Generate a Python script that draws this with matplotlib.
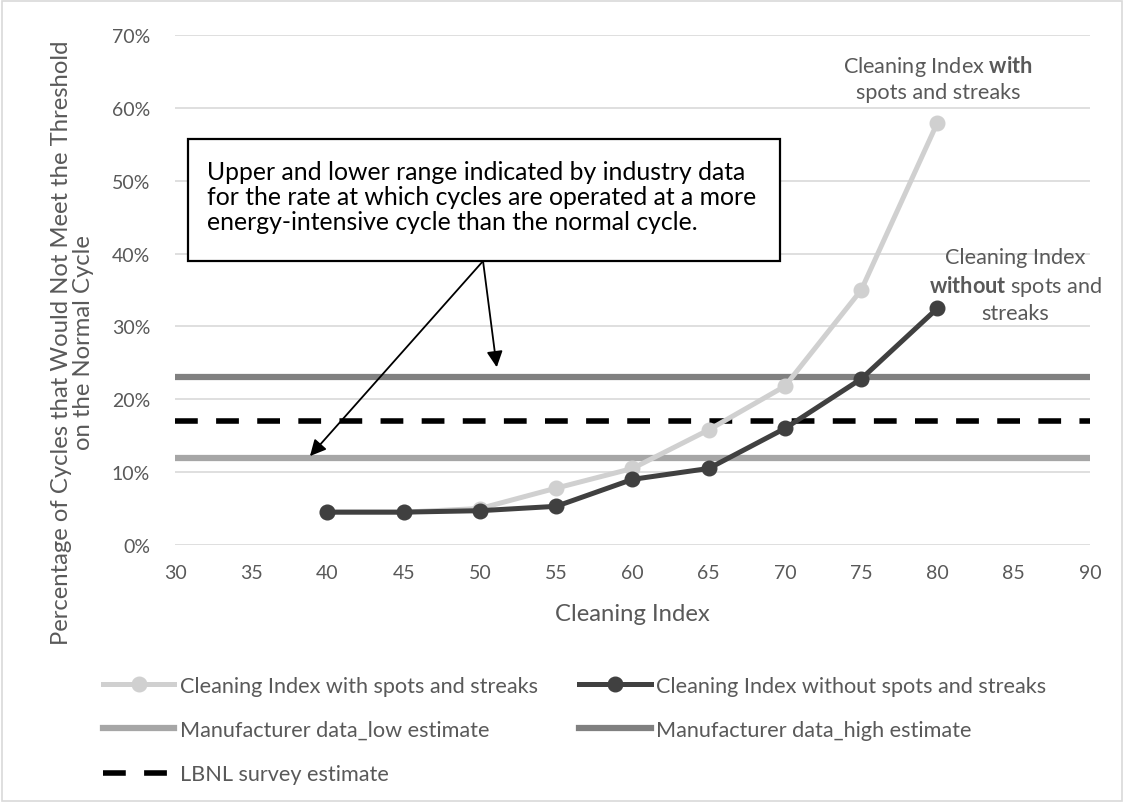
import matplotlib
matplotlib.use('Agg')
import matplotlib.pyplot as plt
from matplotlib.patches import Rectangle
from matplotlib.ticker import FuncFormatter

plt.rcParams['font.family'] = ['Lato', 'DejaVu Sans']
plt.rcParams['mathtext.fontset'] = 'custom'
plt.rcParams['mathtext.bf'] = 'Lato:bold'
plt.rcParams['mathtext.rm'] = 'Lato'

# data
ci = [40, 45, 50, 55, 60, 65, 70, 75, 80]
with_spots = [4.5, 4.5, 5.0, 7.8, 10.5, 15.8, 21.8, 35.0, 58.0]
without_spots = [4.5, 4.5, 4.7, 5.3, 9.0, 10.5, 16.0, 22.8, 32.5]
low_est = 12.0
high_est = 23.0
lbnl_est = 17.0
x_ticks = list(range(30, 91, 5))
y_ticks = list(range(0, 71, 10))

fig = plt.figure(figsize=(11.24, 8.04), dpi=100)
ax = fig.add_axes([0.1557, 0.321, 0.814, 0.634])

# outer chart border
fig.patches.append(Rectangle((0.002, 0.002), 0.996, 0.996, transform=fig.transFigure,
                             fill=False, edgecolor='#d9d9d9', lw=1.2))

l1, = ax.plot(ci, with_spots, color='#d0d0d0', lw=3.6, marker='o', ms=10.5,
              label='Cleaning Index with spots and streaks', zorder=4)
l2, = ax.plot(ci, without_spots, color='#404040', lw=3.6, marker='o', ms=10.5,
              label='Cleaning Index without spots and streaks', zorder=5)
l3 = ax.axhline(low_est, color='#a6a6a6', lw=4.5, label='Manufacturer data_low estimate', zorder=3)
l4 = ax.axhline(high_est, color='#808080', lw=4.5, label='Manufacturer data_high estimate', zorder=3)
l5 = ax.axhline(lbnl_est, color='black', lw=4, ls=(0, (4.1, 3.3)), label='LBNL survey estimate', zorder=3)

ax.set_xlim(30, 90)
ax.set_ylim(0, 70)
ax.set_xticks(x_ticks)
ax.set_yticks(y_ticks)
ax.yaxis.set_major_formatter(FuncFormatter(lambda v, p: f'{v:.0f}%'))
ax.grid(axis='y', color='#d9d9d9', lw=1.2)
ax.set_axisbelow(True)
for s in ax.spines.values():
    s.set_visible(False)
ax.tick_params(length=0, labelsize=14, colors='#595959')
ax.tick_params(axis='y', pad=18)
ax.tick_params(axis='x', pad=14)
ax.set_xlabel('Cleaning Index', fontsize=17.2, color='#595959', va='center')
ax.xaxis.set_label_coords(0.5, -0.135)
ax.set_ylabel('Percentage of Cycles that Would Not Meet the Threshold\non the Normal Cycle',
              fontsize=17.2, color='#595959', va='center', linespacing=1.1)
ax.yaxis.set_label_coords(-0.112, 0.398)

# callout box with arrows
ax.add_patch(Rectangle((30.85, 38.98), 38.82, 16.74, fc='white', ec='black', lw=1.6,
                       clip_on=False, zorder=6))
box_txt = ('Upper and lower range indicated by industry data\n'
           'for the rate at which cycles are operated at a more\n'
           'energy-intensive cycle than the normal cycle.')
ax.text(32.1, 47.9, box_txt, fontsize=17.8, color='black', va='center', ha='left',
        linespacing=1.1, zorder=7)
ax.annotate('', xy=(38.85, 12.2), xytext=(50.2, 38.98),
            arrowprops=dict(arrowstyle='-|>', color='black', lw=1.3, mutation_scale=24,
                            shrinkA=0, shrinkB=0), zorder=6)
ax.annotate('', xy=(51.1, 24.4), xytext=(50.2, 38.98),
            arrowprops=dict(arrowstyle='-|>', color='black', lw=1.3, mutation_scale=24,
                            shrinkA=0, shrinkB=0), zorder=6)

ax.text(80.05, 64.2, 'Cleaning Index $\\bf{with}$\nspots and streaks', fontsize=15.6,
        color='#595959', ha='center', va='center', linespacing=1.3)
ax.text(85.1, 35.7, 'Cleaning Index\n$\\bf{without}$ spots and\nstreaks', fontsize=15.6,
        color='#595959', ha='center', va='center', linespacing=1.3)

handles = [l1, l3, l5, l2, l4]
fig.legend(handles=handles, labels=[h.get_label() for h in handles],
           loc='upper left', bbox_to_anchor=(0.0916, 0.1585), ncol=2, frameon=False,
           fontsize=15.6, labelcolor='#595959', handlelength=3.3, handletextpad=0.25,
           columnspacing=1.9, labelspacing=1.12, borderpad=0, borderaxespad=0)

fig.savefig('out.png', dpi=100)
